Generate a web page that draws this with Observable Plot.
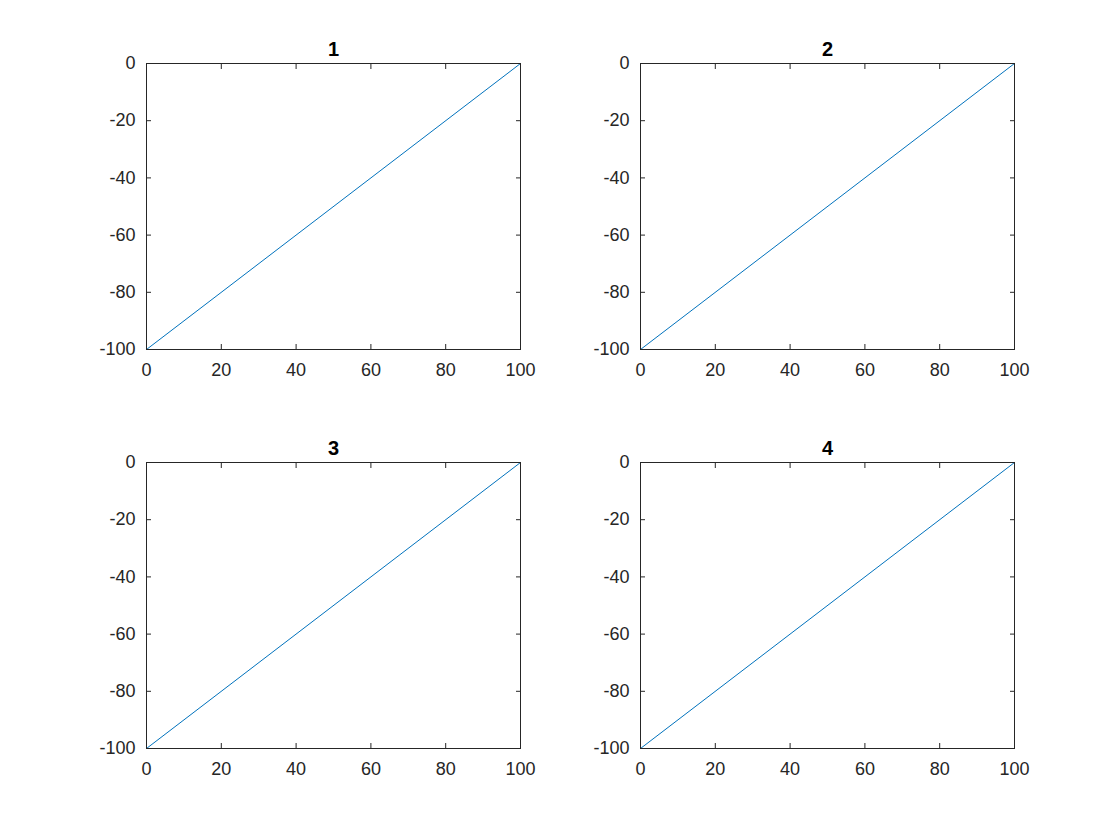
<!DOCTYPE html>
<html>
<head>
<meta charset="utf-8">
<script src="https://cdn.jsdelivr.net/npm/d3@7"></script>
<script src="https://cdn.jsdelivr.net/npm/@observablehq/plot@0.6"></script>
<style>
  html, body { margin: 0; padding: 0; background: #fff; }
  #root { position: relative; width: 1120px; height: 840px; overflow: hidden; }
  #root svg { position: absolute; }
</style>
</head>
<body>
<div id="root"></div>
<script>
const panelTitles = ["1", "2", "3", "4"];
const xValues = [0, 100];
const yValues = [-100, 0];
const xTicks = [0, 20, 40, 60, 80, 100];
const yTicks = [-100, -80, -60, -40, -20, 0];

const lineData = xValues.map((x, i) => ({x, y: yValues[i]}));

const frameW = 374, frameH = 286;
const mL = 70, mR = 30, mT = 40, mB = 40;
const origins = [[146, 63], [640, 63], [146, 462], [640, 462]];
const ink = "#262626";
const fmt = d => String(d);

const root = document.getElementById("root");
panelTitles.forEach((title, i) => {
  const chart = Plot.plot({
    width: frameW + mL + mR,
    height: frameH + mT + mB,
    marginLeft: mL, marginRight: mR, marginTop: mT, marginBottom: mB,
    style: {fontFamily: "'Liberation Sans', Arial, sans-serif", fontSize: "18px", color: ink, background: "transparent", overflow: "visible"},
    x: {domain: [0, 100]},
    y: {domain: [-100, 0]},
    marks: [
      Plot.axisX(xTicks, {anchor: "bottom", tickSize: 0, tickPadding: 14, tickFormat: fmt, fontSize: 18, label: null}),
      Plot.axisY(yTicks, {anchor: "left", tickSize: 0, tickPadding: 11, tickFormat: fmt, fontSize: 18, label: null}),
      Plot.axisX(xTicks, {anchor: "bottom", tickSize: -5, fill: "none", label: null}),
      Plot.axisX(xTicks, {anchor: "top", tickSize: -5, fill: "none", label: null}),
      Plot.axisY(yTicks, {anchor: "left", tickSize: -5, fill: "none", label: null}),
      Plot.axisY(yTicks, {anchor: "right", tickSize: -5, fill: "none", label: null}),
      Plot.line(lineData, {x: "x", y: "y", stroke: "#0072BD", strokeWidth: 1}),
      Plot.frame({stroke: ink, strokeWidth: 1}),
      Plot.text([title], {frameAnchor: "top", dy: -8, lineAnchor: "bottom", fontWeight: "bold", fontSize: 20, fill: "#000"})
    ]
  });
  chart.style.left = (origins[i][0] - mL) + "px";
  chart.style.top = (origins[i][1] - mT) + "px";
  root.appendChild(chart);
});
</script>
</body>
</html>
